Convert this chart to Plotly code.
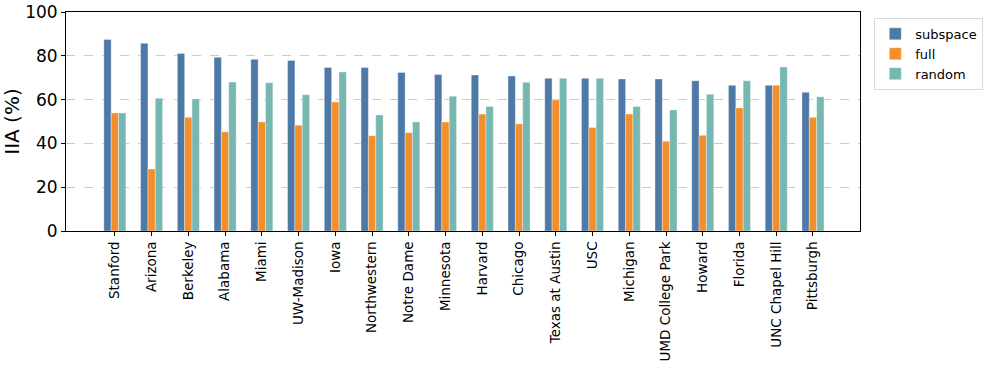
import plotly.graph_objects as go

categories = ["Stanford", "Arizona", "Berkeley", "Alabama", "Miami", "UW-Madison", "Iowa",
              "Northwestern", "Notre Dame", "Minnesota", "Harvard", "Chicago", "Texas at Austin",
              "USC", "Michigan", "UMD College Park", "Howard", "Florida", "UNC Chapel Hill", "Pittsburgh"]
subspace = [87.4, 85.7, 81.1, 79.3, 78.4, 77.9, 74.7, 74.7, 72.4, 71.5, 71.2, 70.8, 69.7, 69.7,
            69.4, 69.4, 68.6, 66.5, 66.5, 63.3]
full = [53.9, 28.3, 51.9, 45.3, 49.8, 48.3, 58.9, 43.5, 44.9, 49.8, 53.4, 48.9, 59.8, 47.3,
        53.4, 41.0, 43.7, 56.2, 66.5, 51.9]
random_ = [53.9, 60.6, 60.3, 68.0, 67.7, 62.2, 72.6, 53.0, 49.8, 61.5, 56.9, 67.9, 69.7, 69.7,
           56.9, 55.3, 62.4, 68.6, 74.9, 61.3]
y_ticks = [0, 20, 40, 60, 80, 100]

series = [("subspace", subspace, "#4e79a7"), ("full", full, "#f28e2b"), ("random", random_, "#76b7b2")]

fig = go.Figure()
for name, vals, col in series:
    fig.add_trace(go.Bar(
        x=list(range(len(categories))), y=vals, name=name,
        marker=dict(color=col, line=dict(color="rgba(255,255,255,0.6)", width=0.6)),
    ))

fig.update_layout(
    width=986, height=371,
    margin=dict(l=66, r=126, t=12, b=140, autoexpand=False),
    plot_bgcolor="white", paper_bgcolor="white",
    barmode="group", bargap=0.4, bargroupgap=0,
    font=dict(family="DejaVu Sans", color="black"),
    showlegend=True,
    legend=dict(x=1.018, y=0.973, xanchor="left", yanchor="top",
                bordercolor="#d9d9d9", borderwidth=1, bgcolor="white",
                font=dict(size=13, family="DejaVu Sans"), tracegroupgap=0,
                itemwidth=30),
)
fig.update_xaxes(
    range=[-1.33, 20.28], tickmode="array", tickvals=list(range(len(categories))),
    ticktext=categories, tickangle=-90, tickfont=dict(size=13.5, family="DejaVu Sans"),
    showline=True, linecolor="black", linewidth=1, mirror=True, automargin=False,
    ticks="outside", ticklen=4, tickcolor="black", showgrid=False, zeroline=False,
)
fig.update_yaxes(
    range=[0, 100], tickmode="array", tickvals=y_ticks,
    tickfont=dict(size=17, family="DejaVu Sans"), ticklabeloverflow="allow",
    title=dict(text="IIA (%)", font=dict(size=20, family="DejaVu Sans"), standoff=8),
    showline=True, linecolor="black", linewidth=1, mirror=True, automargin=False,
    ticks="outside", ticklen=4, tickcolor="black",
    showgrid=True, gridcolor="#cccccc", griddash="dash", gridwidth=0.7, zeroline=False,
)

fig.write_html("out.html", config={"displayModeBar": False},
               post_script="document.body.style.margin='0';")
